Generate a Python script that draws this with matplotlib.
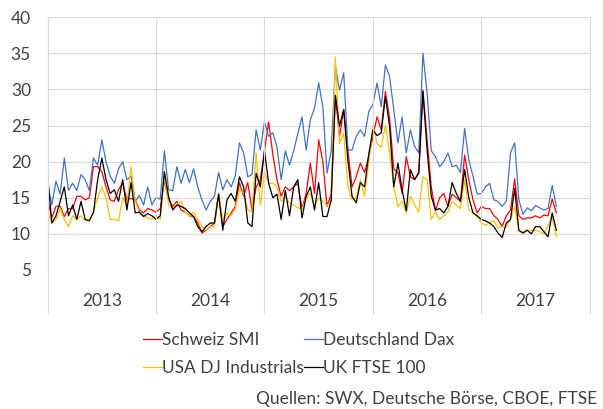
import numpy as np
import matplotlib
matplotlib.use("Agg")
import matplotlib.pyplot as plt
from matplotlib.lines import Line2D

plt.rcParams['font.family'] = ['Lato', 'DejaVu Sans']

# Volatilitaet, ca. zweiwoechentlich, 2013 bis Sept. 2017
years = ["2013", "2014", "2015", "2016", "2017"]

smi = [
    # 2013
    14.7, 12.2, 13.8, 13.8, 12.4, 13.5, 13.5, 15.2, 15.2, 14.7, 15, 19.3, 19.3,
    18.6, 16.5, 14.7, 14.5, 16.1, 17.1, 14.7, 14.9, 14.7, 13.3, 12.9, 13.5, 13.3,
    # 2014
    13, 13.5, 17.4, 14.7, 13.8, 14.5, 13.3, 13, 12.5, 12.4, 11.5, 10.1, 10.5,
    11, 11.5, 15.5, 11, 12, 12.9, 13.8, 17.1, 15.2, 17.1, 13.3, 16.5, 17.5,
    # 2015
    21.5, 25.5, 21, 17.5, 15.2, 16.5, 16, 16.5, 17, 13.5, 15.6, 19.8, 15.6,
    23, 20, 13.8, 15.5, 29, 23.5, 27.2, 21.6, 16.5, 17.9, 19.8, 18.5, 20.7,
    # 2016
    23.5, 26.2, 24.4, 29.7, 26, 19, 18.5, 15.6, 20.7, 17.9, 17.5, 18.5, 29.9,
    23, 16.5, 13.2, 15, 15.6, 13.8, 15.5, 15, 14.5, 20.9, 17.5, 14.7, 12.9,
    # 2017
    13.8, 13.5, 13.5, 12.5, 12, 11, 12.5, 13.3, 17.6, 12.5, 12, 12.2, 12.2,
    12.5, 12.2, 12.6, 12.5, 14.8, 12.9,
]

dax = [
    17, 14, 17.3, 15.5, 20.5, 16, 17, 16, 18.2, 17.5, 16, 20.5, 19.5,
    23, 20, 18, 17, 19, 20, 17.5, 18, 14.5, 15.3, 14, 16.5, 14,
    15, 14.8, 21.5, 16.1, 16, 19.3, 17, 18.9, 17.1, 19, 16.5, 14.7, 13.3,
    14.5, 15.2, 18.5, 16.1, 17.5, 16.5, 18, 22.6, 21.2, 17.9, 18.2, 24.4, 21.6,
    25.5, 23.5, 24, 22, 17.5, 21.5, 19.5, 21.5, 23.9, 26.2, 21.6, 25.8, 27.4,
    30.9, 27.6, 18.4, 21.5, 33.2, 29.9, 32.3, 21.6, 21.6, 23.5, 24.4, 23.5, 26.9,
    27.9, 30.9, 27.6, 33.4, 31.8, 27.2, 22.6, 26.2, 21.2, 24.4, 22.1, 21.2, 35,
    29.5, 21.5, 20.7, 19.3, 20, 21.2, 19.3, 19.5, 18.5, 24.6, 20.2, 18, 15.5,
    15.6, 16.5, 17, 14.7, 14.5, 13.8, 14.5, 21.2, 22.6, 14.7, 12.7, 13.6, 13.2,
    13.9, 13.6, 13.3, 13.5, 16.7, 13.8,
]

dji = [
    13, 11.5, 12, 13.5, 12, 11, 12.5, 12, 12.5, 11.8, 12, 13, 15,
    16.5, 15, 12, 12, 11.8, 15, 14, 19.3, 14.5, 13, 12.5, 12.2, 12,
    12.5, 12, 18, 14, 13.5, 14, 14.5, 13, 12.5, 13, 12, 11, 10.5,
    11, 11, 15.5, 12, 12.9, 12.5, 13.5, 16.1, 15.6, 13.3, 13, 21.2, 14,
    18.5, 17, 17, 16.5, 14.5, 15, 14.3, 14, 13.6, 13.5, 14.9, 15.6, 13.9,
    15, 14.5, 13.9, 14.5, 34.5, 22.5, 24, 16.5, 14.7, 15, 17.5, 15.2, 19.8,
    25, 22.5, 22, 25, 21.2, 16.5, 13.8, 14.5, 12.9, 15.2, 14, 13, 17.9,
    17.5, 12, 13, 12, 12.5, 13, 14.5, 14, 13.5, 17.5, 13.3, 12.9, 12.4,
    11.5, 11.2, 11.5, 11.8, 10.8, 11, 11, 12, 13.8, 10.3, 10.3, 10.5, 10.5,
    10.5, 10.3, 10, 11.2, 12.4, 9.6,
]

ftse = [
    18, 11.5, 12.5, 14.5, 16.5, 12.5, 14, 12, 14.5, 12, 11.8, 13, 17.5,
    20.5, 17.5, 15.6, 16.1, 14.5, 17.5, 13.3, 17.1, 12.9, 13, 12.4, 12.8, 12.5,
    12, 12.5, 18.6, 15.2, 13.3, 14, 13.8, 13.5, 12.9, 12.4, 11, 10.3, 11,
    11.5, 11.5, 15.5, 10.5, 14.7, 15.6, 14.5, 17.9, 16.5, 11.5, 11, 18.4, 16.5,
    21.5, 17, 15, 15.5, 12, 16, 12.5, 16.5, 17.5, 12.2, 15.2, 16.5, 13.3,
    17.1, 12.4, 12.4, 14.7, 29.2, 24.9, 27.2, 20.2, 15.2, 14.3, 17.1, 16.5, 21,
    24.4, 23.6, 24, 29, 24.9, 16.5, 19.8, 16.1, 13.2, 18.9, 17.5, 18.4, 29.7,
    21.6, 15.2, 13.3, 13.5, 12.9, 13.8, 17.1, 15.6, 14.5, 18.9, 15, 12.9, 12.5,
    12, 11.8, 11.5, 11, 10.1, 9.5, 11.5, 12, 16.3, 10.5, 10.1, 10.5, 10,
    11, 11, 10.3, 9.6, 12.9, 10.5,
]

x = 2013 + np.arange(len(smi)) / 26.0

fig = plt.figure(figsize=(6.03, 4.09), dpi=100)
ax = fig.add_axes([0.079, 0.340, 0.899, 0.618])

grid_col = "#D9D9D9"
l_smi, = ax.plot(x, smi, color="#FF0000", lw=0.9, label="Schweiz SMI")
l_dax, = ax.plot(x, dax, color="#4472C4", lw=0.9, label="Deutschland Dax")
l_dji, = ax.plot(x, dji, color="#FFC000", lw=0.9, label="USA DJ Industrials")
l_ftse, = ax.plot(x, ftse, color="#000000", lw=0.9, label="UK FTSE 100")

ax.set_xlim(2013, 2018)
ax.set_ylim(5, 40)
ax.set_yticks(range(5, 41, 5))
ax.set_xticks([])
ax.grid(axis="y", color=grid_col, lw=0.8)
ax.set_axisbelow(True)
for s in ["top", "right", "bottom"]:
    ax.spines[s].set_visible(False)
ax.spines["left"].set_color(grid_col)
ax.tick_params(axis="y", length=0, pad=12, labelsize=12.5, labelcolor="#404040")

# Jahres-Trennlinien und Beschriftung
for k in range(6):
    xa = k / 5.0
    ax.add_line(Line2D([xa, xa], [-0.17, 1.0], transform=ax.transAxes,
                       color=grid_col, lw=0.8, clip_on=False))
for k, yr in enumerate(years):
    ax.text((k + 0.5) / 5.0, -0.123, yr, transform=ax.transAxes,
            ha="center", va="center", fontsize=12.5, color="#404040")

# Reihenfolge so, dass die Legende zeilenweise liest
handles = [l_smi, l_dji, l_dax, l_ftse]
fig.legend(handles, [h.get_label() for h in handles],
           loc="upper center", bbox_to_anchor=(0.495, 0.21), ncol=2,
           frameon=False, fontsize=12.5, handlelength=1.1, handletextpad=0.0,
           columnspacing=0.0, labelspacing=0.7, borderpad=0)
for t in fig.legends[0].get_texts():
    t.set_color("#404040")

fig.text(0.99, 0.004, "Quellen: SWX, Deutsche Börse, CBOE, FTSE",
         ha="right", va="bottom", fontsize=12.5, color="#404040")

fig.savefig("out.png", dpi=100)
